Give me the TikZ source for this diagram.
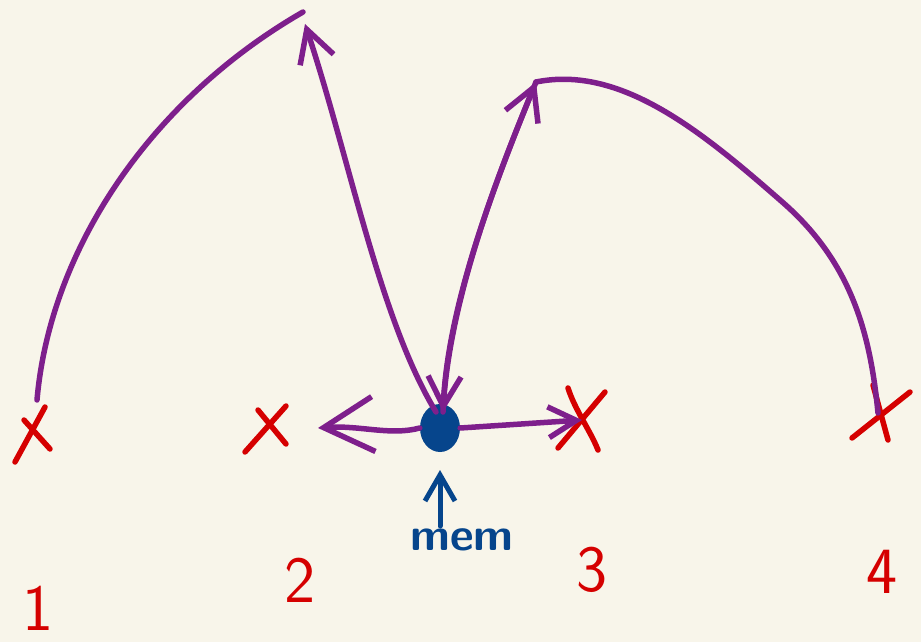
\documentclass[tikz,border=0pt]{standalone}
\usetikzlibrary{arrows.meta,shapes.geometric}
\definecolor{bgc}{HTML}{F8F5EA}
\definecolor{rd}{HTML}{D50000}
\definecolor{pu}{HTML}{7E1F8C}
\definecolor{bl}{HTML}{06458C}
\begin{document}
\begin{tikzpicture}[x=1pt,y=-1pt,
  cross/.style={draw=rd,line width=5.5pt,line cap=round},
  num/.style={text=rd,font=\sffamily\fontsize{66}{66}\selectfont},
  purp/.style={draw=pu,line width=5.5pt,line cap=round,line join=round},
  barb/.style={-{Straight Barb[length=#1,width=1.1*#1,line width=5.5pt]}},
  barb/.default=30pt]
\fill[bgc] (0,0) rectangle (921,642);
\useasboundingbox (0,0) rectangle (921,642);
% crosses
\coordinate (x1) at (35,432);
\coordinate (x2) at (266,430);
\coordinate (x3) at (582,420);
\coordinate (x4) at (878,413);
\draw[cross] (45,407) -- (15,462); \draw[cross] (24,420) -- (50,449);
\draw[cross] (286,406) -- (245,452); \draw[cross] (258,410) -- (286,444);
\draw[cross] (568,388) .. controls (575,410) and (590,430) .. (598,450); \draw[cross] (605,392) -- (558,448);
\draw[cross] (873,385) -- (888,440); \draw[cross] (910,392) -- (852,438);
% labels
\node[num] (n1) at (38,608) {1};
\node[num] (n2) at (300,580) {2};
\node[num] (n3) at (592,570) {3};
\node[num] (n4) at (882,572) {4};
% dot and mem
\node[fill=bl,ellipse,minimum width=40pt,minimum height=48pt,inner sep=0pt] (dot) at (440,428) {};
\node[text=bl,font=\sffamily\bfseries\fontsize{46}{46}\selectfont] (mem) at (462,540) {mem};
\coordinate (m0) at (440,526);
\coordinate (m1) at (440,470);
\draw[bl,line width=5pt,line cap=round,-{Straight Barb[length=26pt,width=30pt,line width=5pt]}] (m0) -- (m1);
% peaks
\coordinate (p1) at (305,24);
\coordinate (p2) at (536,82);
\coordinate (d1) at (436,412);
\coordinate (d2) at (443,412);
% purple curves
\draw[purp] (x1) ++(2,-32) .. controls (50,250) and (150,100) .. (303,12);
\draw[purp,barb=32pt] (d1) .. controls (380,320) and (350,160) .. (p1);
\draw[purp,barb=30pt] (p2) .. controls (500,170) and (448,300) .. (d2);
\draw[purp] (p2) .. controls (620,65) and (700,130) .. (780,200) .. controls (850,260) and (870,330) .. (x4);
\draw[purp,barb=32pt] (d2) .. controls (448,300) and (500,170) .. (p2);
% horizontal arrows
\coordinate (l1) at (318,428);
\draw[purp,barb=50pt] (dot.west) .. controls (390,436) and (360,425) .. (l1);
\draw[purp,barb=28pt] (dot.east) -- (x3);
\end{tikzpicture}
\end{document}
